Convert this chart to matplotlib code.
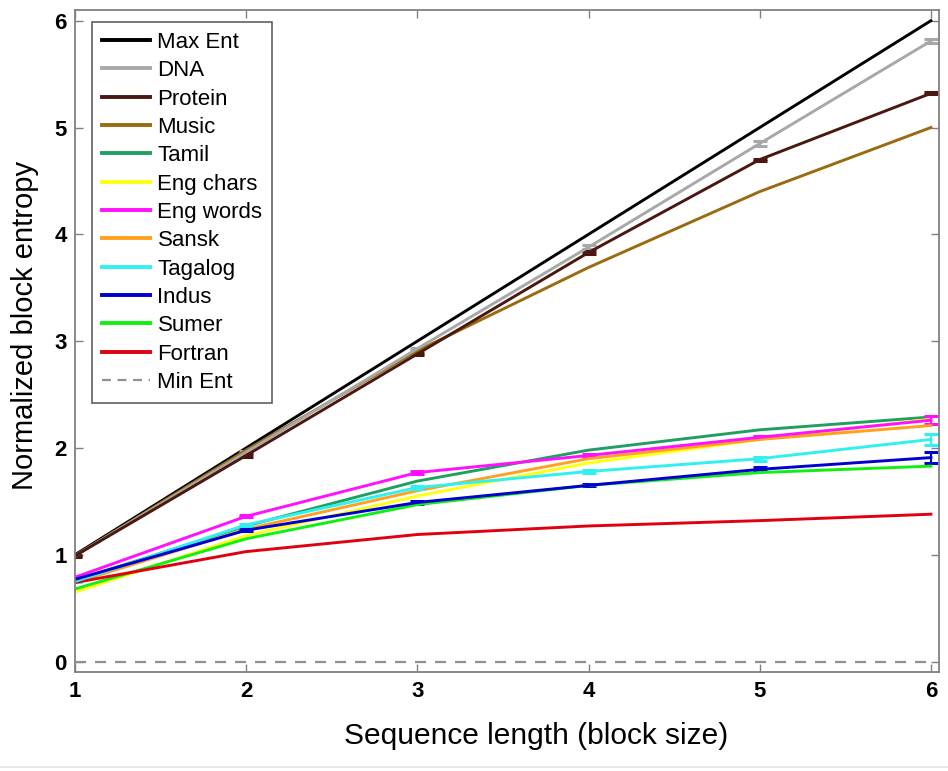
import matplotlib
matplotlib.use("Agg")
import matplotlib.pyplot as plt
from matplotlib.lines import Line2D
import numpy as np

plt.rcParams['font.family'] = ['Liberation Sans', 'DejaVu Sans']

block_size = [1, 2, 3, 4, 5, 6]

series_names = ["Max Ent", "DNA", "Protein", "Music", "Tamil", "Eng chars",
                "Eng words", "Sansk", "Tagalog", "Indus", "Sumer", "Fortran"]

max_ent   = [1.00, 2.00, 3.00, 4.00, 5.00, 6.00]
dna       = [0.99, 1.96, 2.93, 3.88, 4.85, 5.81]
protein   = [0.99, 1.93, 2.88, 3.83, 4.70, 5.32]
music     = [0.99, 1.98, 2.91, 3.69, 4.40, 5.00]
tamil     = [0.76, 1.27, 1.69, 1.98, 2.17, 2.29]
eng_chars = [0.65, 1.18, 1.55, 1.86, 2.08, 2.27]
eng_words = [0.79, 1.36, 1.77, 1.93, 2.10, 2.26]
sansk     = [0.74, 1.24, 1.60, 1.90, 2.08, 2.21]
tagalog   = [0.75, 1.28, 1.63, 1.78, 1.90, 2.08]
indus     = [0.77, 1.23, 1.49, 1.65, 1.80, 1.91]
sumer     = [0.68, 1.15, 1.47, 1.65, 1.77, 1.83]
fortran   = [0.74, 1.03, 1.19, 1.27, 1.32, 1.38]
min_ent   = [0, 0, 0, 0, 0, 0]

errors = {
    "DNA":       [0.0, 0.01, 0.01, 0.02, 0.02, 0.02],
    "Protein":   [0.01, 0.01, 0.01, 0.01, 0.01, 0.01],
    "Eng words": [0.0, 0.01, 0.01, 0.01, 0.01, 0.04],
    "Tagalog":   [0.0, 0.01, 0.01, 0.01, 0.02, 0.05],
    "Indus":     [0.0, 0.01, 0.01, 0.01, 0.02, 0.05],
}

colors = {
    "Max Ent": "#000000", "DNA": "#a8a8a8", "Protein": "#4a1810",
    "Music": "#9a6a10", "Tamil": "#20a060", "Eng chars": "#ffff10",
    "Eng words": "#ff10ff", "Sansk": "#ffa020", "Tagalog": "#30f0f0",
    "Indus": "#0000d0", "Sumer": "#10f010", "Fortran": "#e00010",
}

values = [max_ent, dna, protein, music, tamil, eng_chars, eng_words,
          sansk, tagalog, indus, sumer, fortran]

fig = plt.figure(figsize=(9.48, 7.71), dpi=100)
ax = fig.add_axes([0.079, 0.128, 0.912, 0.859])

handles = []
for name, vals in zip(series_names, values):
    c = colors[name]
    if name in errors:
        ax.errorbar(block_size, vals, yerr=errors[name], color=c, lw=2.1,
                    capsize=5, capthick=2.2, elinewidth=1.5)
    else:
        ax.plot(block_size, vals, color=c, lw=2.1)
    handles.append(Line2D([], [], color=c, lw=2.8, label=name))

ax.plot(block_size, min_ent, color="#909090", lw=1.6, ls=(0, (5, 4)))
handles.append(Line2D([], [], color="#909090", lw=1.6, ls=(0, (4, 3)), label="Min Ent"))

ax.set_xlim(1, 6.05)
ax.set_ylim(-0.1, 6.1)
ax.set_xticks(block_size)
ax.set_yticks([0, 1, 2, 3, 4, 5, 6])
ax.tick_params(direction="in", top=True, right=True, length=6, width=1,
               color="#808080", labelsize=16, pad=6)
for lab in ax.get_xticklabels() + ax.get_yticklabels():
    lab.set_fontweight("bold")
for s in ax.spines.values():
    s.set_color("#808080")
    s.set_linewidth(1.3)

ax.set_xlabel("Sequence length (block size)", fontsize=21.5)
ax.set_ylabel("Normalized block entropy", fontsize=21)
ax.xaxis.set_label_coords(0.533, -0.075)
ax.yaxis.set_label_coords(-0.042, 0.524)

leg = ax.legend(handles=handles, loc="upper left", bbox_to_anchor=(0.0197, 0.982),
                borderaxespad=0, fontsize=16, handlelength=2.15, handletextpad=0.35,
                labelspacing=0.33, borderpad=0.45, fancybox=False,
                framealpha=1, edgecolor="#606060")
leg.get_frame().set_linewidth(1.2)

fig.add_artist(Line2D([0, 1], [0.005, 0.005], transform=fig.transFigure,
                      color="#e4e4e4", lw=1.2))

fig.savefig("out.png", dpi=100)
